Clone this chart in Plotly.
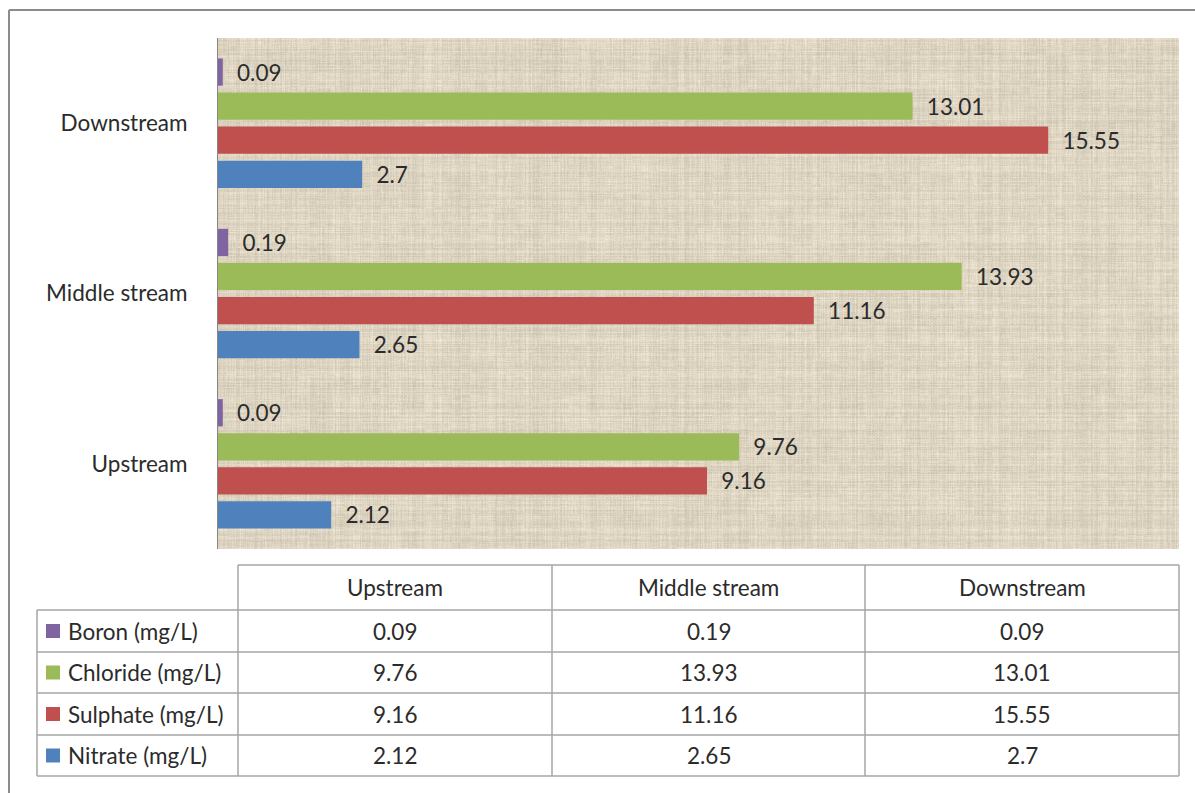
import base64
import struct
import zlib

import numpy as np
import plotly.graph_objects as go

# ---- data -------------------------------------------------------------
sites = ["Upstream", "Middle stream", "Downstream"]
parameters = ["Boron (mg/L)", "Chloride (mg/L)", "Sulphate (mg/L)", "Nitrate (mg/L)"]
boron = [0.09, 0.19, 0.09]
chloride = [9.76, 13.93, 13.01]
sulphate = [9.16, 11.16, 15.55]
nitrate = [2.12, 2.65, 2.7]
series = [boron, chloride, sulphate, nitrate]
colors = ["#8064A2", "#9BBB59", "#C0504D", "#4F81BD"]

# ---- canvas geometry (pixels) ----------------------------------------
W, H = 1195, 793
PLOT_L, PLOT_R, PLOT_T, PLOT_B = 218, 1179, 38, 549
FONT = "Lato"
FS = 22.5
TXT = "#2b2b2b"


def px(x):
    return x / W


def py(y):
    return 1 - y / H


# ---- burlap texture for the plot area ---------------------------------
def burlap_png(w, h):
    def hsh(a, s):
        return np.modf(np.abs(np.sin(a * 12.9898 + s * 78.233) * 43758.5453))[0]

    xs = np.arange(w, dtype=float)
    ys = np.arange(h, dtype=float)
    colv = hsh(xs, 1.0)[None, :]
    rowv = hsh(ys, 2.0)[:, None]
    seg_v = hsh(xs[None, :] * 0.37 + (ys[:, None] // 7) * 1.91, 3.0)
    seg_h = hsh((xs[None, :] // 9) * 0.53 + ys[:, None] * 1.13, 5.0)
    pix = hsh(xs[None, :] * 0.71 + ys[:, None] * 1.37, 4.0)
    blot = hsh((xs[None, :] // 23) * 0.91 + (ys[:, None] // 17) * 2.37, 6.0)
    weave = np.sin(2 * np.pi * xs / 3.3)[None, :] * np.sin(2 * np.pi * ys / 3.3)[:, None]
    v = (0.28 * (colv - 0.5) + 0.28 * (rowv - 0.5) + 0.18 * (seg_v - 0.5)
         + 0.18 * (seg_h - 0.5) + 0.14 * (pix - 0.5) + 0.10 * (blot - 0.5)
         + 0.08 * weave)
    base = np.array([221.0, 212.0, 194.0])
    img = base[None, None, :] + v[..., None] * np.array([48.0, 48.0, 46.0])
    img = np.clip(img, 0, 255).astype(np.uint8)
    raw = b"".join(b"\x00" + img[r].tobytes() for r in range(h))

    def chunk(t, d):
        c = struct.pack(">I", len(d)) + t + d
        return c + struct.pack(">I", zlib.crc32(t + d) & 0xFFFFFFFF)

    png = (b"\x89PNG\r\n\x1a\n"
           + chunk(b"IHDR", struct.pack(">IIBBBBB", w, h, 8, 2, 0, 0, 0))
           + chunk(b"IDAT", zlib.compress(raw, 9))
           + chunk(b"IEND", b""))
    return "data:image/png;base64," + base64.b64encode(png).decode()


texture = burlap_png(PLOT_R - PLOT_L, PLOT_B - PLOT_T)

# ---- bars (bottom trace first so Boron sits on top in each group) -----
fig = go.Figure()
for name, vals, col in reversed(list(zip(parameters, series, colors))):
    fig.add_trace(go.Bar(
        y=sites, x=vals, orientation="h", name=name,
        marker=dict(color=col, line=dict(width=0)),
        text=["\u2002" + f"{v:g}" for v in vals],
        textposition="outside", cliponaxis=False,
        textfont=dict(family=FONT, size=FS, color=TXT),
        hoverinfo="x+name",
    ))

# ---- data table below the chart --------------------------------------
col_x = [37, 238, 552, 865, 1179]
row_y = [565, 610, 652, 693, 735, 776]
line_style = dict(color="#a6a6a6", width=1.5)
shapes = []

# header row (no cell above the row labels)
shapes.append(dict(type="line", xref="paper", yref="paper",
                   x0=px(col_x[1]), x1=px(col_x[-1]), y0=py(row_y[0]), y1=py(row_y[0]),
                   line=line_style))
for cx in col_x[1:]:
    shapes.append(dict(type="line", xref="paper", yref="paper",
                       x0=px(cx), x1=px(cx), y0=py(row_y[0]), y1=py(row_y[1]),
                       line=line_style))
# body rows
for ry in row_y[1:]:
    shapes.append(dict(type="line", xref="paper", yref="paper",
                       x0=px(col_x[0]), x1=px(col_x[-1]), y0=py(ry), y1=py(ry),
                       line=line_style))
for cx in col_x:
    shapes.append(dict(type="line", xref="paper", yref="paper",
                       x0=px(cx), x1=px(cx), y0=py(row_y[1]), y1=py(row_y[-1]),
                       line=line_style))

annotations = []
for j, site in enumerate(sites):
    cx = (col_x[j + 1] + col_x[j + 2]) / 2
    annotations.append(dict(xref="paper", yref="paper", x=px(cx),
                            y=py((row_y[0] + row_y[1]) / 2), text=site, showarrow=False,
                            xanchor="center", yanchor="middle",
                            font=dict(family=FONT, size=FS, color=TXT)))

for i, (name, vals, col) in enumerate(zip(parameters, series, colors)):
    cy = (row_y[i + 1] + row_y[i + 2]) / 2
    # legend key square
    shapes.append(dict(type="rect", xref="paper", yref="paper",
                       x0=px(46), x1=px(60), y0=py(cy - 7), y1=py(cy + 7),
                       fillcolor=col, line=dict(width=0)))
    annotations.append(dict(xref="paper", yref="paper", x=px(66), y=py(cy),
                            text=name, showarrow=False, xanchor="left", yanchor="middle",
                            font=dict(family=FONT, size=FS, color=TXT)))
    for j, v in enumerate(vals):
        cx = (col_x[j + 1] + col_x[j + 2]) / 2
        annotations.append(dict(xref="paper", yref="paper", x=px(cx), y=py(cy),
                                text=f"{v:g}", showarrow=False,
                                xanchor="center", yanchor="middle",
                                font=dict(family=FONT, size=FS, color=TXT)))

# outer frame (top and left edges visible on the canvas)
frame = dict(color="#8c8c8c", width=2)
shapes.append(dict(type="line", xref="paper", yref="paper",
                   x0=px(9), x1=px(W + 5), y0=py(10), y1=py(10), line=frame))
shapes.append(dict(type="line", xref="paper", yref="paper",
                   x0=px(9), x1=px(9), y0=py(10), y1=py(H + 5), line=frame))

fig.update_layout(
    width=W, height=H,
    margin=dict(l=0, r=0, t=0, b=0),
    paper_bgcolor="white",
    plot_bgcolor="rgba(0,0,0,0)",
    barmode="group", bargap=0.2, bargroupgap=0.2,
    showlegend=False,
    xaxis=dict(domain=[px(PLOT_L), px(PLOT_R)], range=[0, 18],
               showgrid=False, zeroline=False, showticklabels=False,
               showline=False, ticks="", fixedrange=True),
    yaxis=dict(domain=[py(PLOT_B), py(PLOT_T)],
               showgrid=False, zeroline=False, showline=True,
               linecolor="#868686", linewidth=1, ticks="",
               ticklabelstandoff=25,
               tickfont=dict(family=FONT, size=FS, color=TXT), fixedrange=True),
    images=[dict(source=texture, xref="paper", yref="paper",
                 x=px(PLOT_L), y=py(PLOT_T), sizex=px(PLOT_R) - px(PLOT_L),
                 sizey=py(PLOT_T) - py(PLOT_B), xanchor="left", yanchor="top",
                 sizing="stretch", layer="below")],
    shapes=shapes,
    annotations=annotations,
    font=dict(family=FONT, color=TXT),
)

fig.write_html("out.html")
